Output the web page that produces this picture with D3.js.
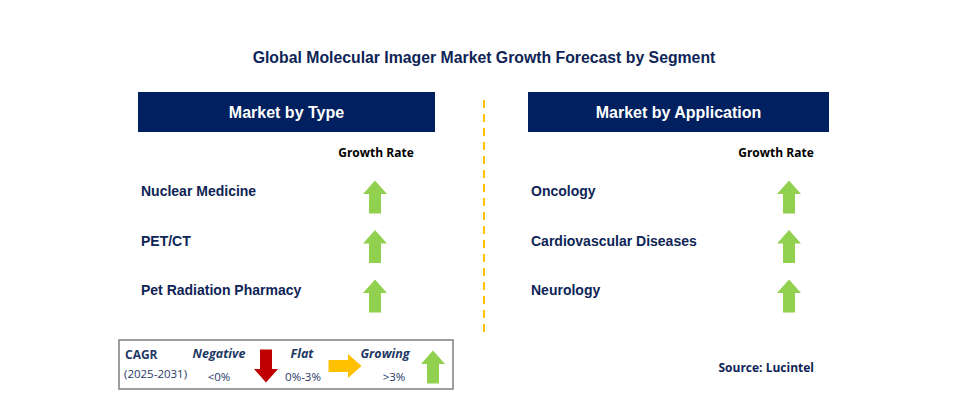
<!DOCTYPE html>
<html><head><meta charset="utf-8">
<script src="https://cdn.jsdelivr.net/npm/d3@7"></script>
<style>body{margin:0;background:#fff}</style></head>
<body><svg id="c" width="957" height="416"></svg>
<script>
const title = "Global Molecular Imager Market Growth Forecast by Segment";
const typeSegments = ["Nuclear Medicine", "PET/CT", "Pet Radiation Pharmacy"];
const typeGrowth = ["up", "up", "up"];
const appSegments = ["Oncology", "Cardiovascular Diseases", "Neurology"];
const appGrowth = ["up", "up", "up"];
const panelTitles = ["Market by Type", "Market by Application"];

const svg = d3.select("#c");
const navy = "#002060", green = "#92D050", red = "#C00000", amber = "#FFC000", txt = "#0E2456";
svg.append("text").attr("x", 484).attr("y", 63).attr("text-anchor", "middle")
  .attr("font-family", "Arial, Liberation Sans").attr("font-weight", "bold").attr("font-size", 15.8)
  .attr("fill", txt).text(title);

svg.append("line").attr("x1", 484).attr("x2", 484).attr("y1", 100).attr("y2", 335)
  .attr("stroke", amber).attr("stroke-width", 2).attr("stroke-dasharray", "8,6");

const y = d3.scalePoint().domain([0, 1, 2]).range([191, 290]);

function arrow(g, cx, cy, dir, color) {
  const pts = [[0,-16.5],[12,-3],[6,-3],[6,16.5],[-6,16.5],[-6,-3],[-12,-3]];
  const rot = dir === "up" ? 0 : dir === "down" ? 180 : 90;
  g.append("path").attr("d", d3.line()(pts) + "Z")
    .attr("transform", `translate(${cx},${cy}) rotate(${rot})`).attr("fill", color);
}

function panel(x0, w, ttl, segs, growth, arrowX, grX) {
  svg.append("rect").attr("x", x0).attr("y", 92).attr("width", w).attr("height", 40).attr("fill", navy);
  svg.append("text").attr("x", x0 + w / 2).attr("y", 118).attr("text-anchor", "middle")
    .attr("font-family", "Arial, Liberation Sans").attr("font-weight", "bold").attr("font-size", 16)
    .attr("fill", "#fff").text(ttl);
  svg.append("text").attr("x", grX).attr("y", 157).attr("text-anchor", "middle")
    .attr("font-family", "Open Sans, Noto Sans").attr("font-weight", "bold").attr("font-size", 12)
    .attr("fill", "#000").text("Growth Rate");
  segs.forEach((s, i) => {
    svg.append("text").attr("x", x0 + 3).attr("y", y(i) + 5)
      .attr("font-family", "Arial, Liberation Sans").attr("font-weight", "bold").attr("font-size", 14)
      .attr("fill", txt).text(s);
    arrow(svg, arrowX, y(i) + 6, growth[i], green);
  });
}
panel(138, 297, panelTitles[0], typeSegments, typeGrowth, 375, 376);
panel(528, 301, panelTitles[1], appSegments, appGrowth, 789, 776);

const lg = svg.append("g");
lg.append("rect").attr("x", 119).attr("y", 340).attr("width", 334).attr("height", 49)
  .attr("fill", "#fff").attr("stroke", "#7f7f7f").attr("stroke-width", 1.5);
const lf = "Open Sans, Noto Sans", lc = "#1F3864";
const t = (x, yy, s, o = {}) => lg.append("text").attr("x", x).attr("y", yy).attr("font-family", lf)
  .attr("font-size", o.size || 11.5).attr("font-weight", o.bold ? "bold" : "normal")
  .attr("font-style", o.italic ? "italic" : "normal").attr("text-anchor", o.anchor || "start")
  .attr("fill", lc).text(s);
t(125, 359, "CAGR", {bold: true, size: 12});
t(124, 378, "(2025-2031)", {size: 11.5});
t(219, 358, "Negative", {bold: true, italic: true, anchor: "middle", size: 12.5});
t(219, 381, "<0%", {anchor: "middle"});
t(302, 358, "Flat", {bold: true, italic: true, anchor: "middle", size: 12.5});
t(303, 381, "0%-3%", {anchor: "middle"});
t(385, 358, "Growing", {bold: true, italic: true, anchor: "middle", size: 12.5});
t(394, 381, ">3%", {anchor: "middle"});
arrow(lg, 266, 366, "down", red);
arrow(lg, 345, 366, "right", amber);
arrow(lg, 433, 367, "up", green);

svg.append("text").attr("x", 814).attr("y", 372).attr("text-anchor", "end")
  .attr("font-family", "Open Sans, Noto Sans").attr("font-weight", "bold").attr("font-size", 12)
  .attr("fill", txt).text("Source: Lucintel");
</script></body></html>
